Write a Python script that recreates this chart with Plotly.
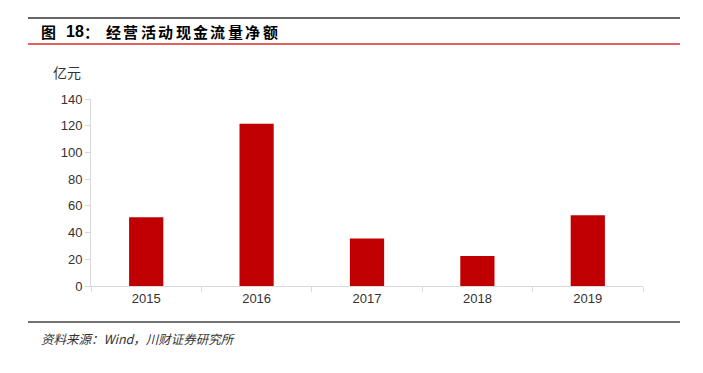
import plotly.graph_objects as go

years = ["2015", "2016", "2017", "2018", "2019"]
values = [51.5, 121.5, 35.5, 22.5, 53.0]
title_fig = "图"
title_num = "18"
title_colon = "："
title_text = "经营活动现金流量净额"
unit_text = "亿元"
source_text = "资料来源：Wind，川财证券研究所"

W, H = 703, 373
L, R, T, B = 91, 60, 99, 87
pw, ph = W - L - R, H - T - B

def px(x):
    return (x - L) / pw

def py(y):
    return (H - B - y) / ph

fig = go.Figure(go.Bar(x=years, y=values, marker=dict(color="#C00000", line=dict(width=0)), width=0.31))

title_font = dict(family="Noto Sans CJK SC", size=15, color="#000000")
ty = py(32)

annotations = [
    dict(text="<b>" + title_fig + "</b>", xref="paper", yref="paper", x=px(39), y=ty,
         xanchor="left", yanchor="middle", showarrow=False, font=title_font),
    dict(text="<b>" + title_num + "</b>", xref="paper", yref="paper", x=px(64), y=ty,
         xanchor="left", yanchor="middle", showarrow=False,
         font=dict(family="Arial, Liberation Sans", size=16, color="#000000")),
    dict(text="<b>" + title_colon + "</b>", xref="paper", yref="paper", x=px(82), y=ty,
         xanchor="left", yanchor="middle", showarrow=False, font=title_font),
]
for i, ch in enumerate(title_text):
    annotations.append(dict(text="<b>" + ch + "</b>", xref="paper", yref="paper",
                            x=px(106 + 7.5 + i * 17.4), y=ty, xanchor="center", yanchor="middle",
                            showarrow=False, font=title_font))
annotations += [
    dict(text=unit_text, xref="paper", yref="paper", x=px(51), y=py(72),
         xanchor="left", yanchor="middle", showarrow=False,
         font=dict(family="Noto Sans CJK SC", size=14, color="#333333")),
    dict(text="<i>" + source_text + "</i>", xref="paper", yref="paper", x=px(39), y=py(338),
         xanchor="left", yanchor="middle", showarrow=False,
         font=dict(family="Noto Sans CJK SC, Arial", size=12.5, color="#333333")),
]

fig.update_layout(
    width=W, height=H,
    margin=dict(l=L, r=R, t=T, b=B),
    plot_bgcolor="white", paper_bgcolor="white",
    showlegend=False,
    font=dict(family="Arial, Liberation Sans, sans-serif", size=13, color="#333333"),
    xaxis=dict(showline=True, linecolor="#D9D9D9", linewidth=1, ticks="outside",
               tickcolor="#D9D9D9", ticklen=5, tickson="boundaries", showgrid=False,
               tickfont=dict(size=13, color="#333333")),
    yaxis=dict(range=[0, 140], dtick=20, showline=True, linecolor="#D9D9D9", linewidth=1,
               ticks="outside", tickcolor="#D9D9D9", ticklen=5, showgrid=False, zeroline=False,
               tickfont=dict(size=13, color="#333333")),
    shapes=[
        dict(type="line", xref="paper", yref="paper", x0=px(28), x1=px(680), y0=py(18), y1=py(18),
             line=dict(color="#333333", width=1.3)),
        dict(type="line", xref="paper", yref="paper", x0=px(28), x1=px(680), y0=py(44), y1=py(44),
             line=dict(color="#D92B2B", width=1.3)),
        dict(type="line", xref="paper", yref="paper", x0=px(28), x1=px(680), y0=py(322), y1=py(322),
             line=dict(color="#444444", width=1.3)),
    ],
    annotations=annotations,
)

post = "document.body.style.margin='0px';document.body.style.overflow='hidden';"
fig.write_html("out.html", post_script=post, config={"displayModeBar": False})
